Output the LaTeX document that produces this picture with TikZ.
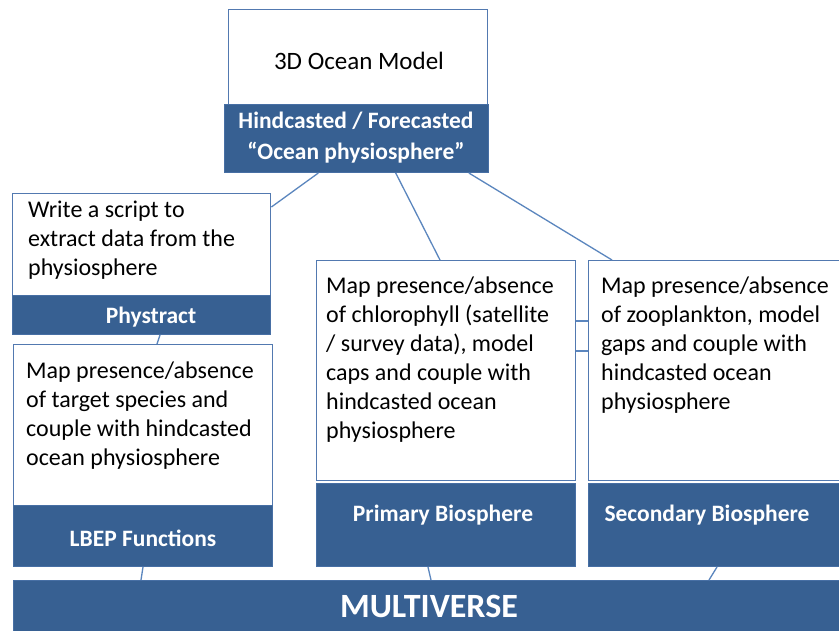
\documentclass[tikz,border=0pt]{standalone}
\usepackage{fontspec}
\setmainfont{Carlito}
\usetikzlibrary{calc}
\definecolor{bandblue}{HTML}{376092}
\definecolor{edgeblue}{HTML}{5279B0}
\definecolor{linkblue}{HTML}{5B86BE}
\begin{document}
\begin{tikzpicture}[x=1pt,y=-1pt,
	whitebox/.style={draw=edgeblue, line width=1.4pt, fill=white, anchor=north west, inner sep=0pt},
	band/.style={draw=edgeblue!60!bandblue, line width=1pt, fill=bandblue, anchor=north west, inner sep=0pt},
	bodytext/.style={anchor=north west, align=left, inner sep=0pt, font=\fontsize{24}{29}\selectfont},
	bandtext/.style={text=white, align=center, inner sep=0pt, font=\fontsize{23.5}{31}\selectfont\bfseries},
	link/.style={draw=linkblue, line width=1.3pt}]
	\path[fill=white, use as bounding box] (0,0) rectangle (839,630);
	\clip (0,0) rectangle (839,630);

	% model on top
	\node[whitebox, minimum width=259, minimum height=96] (model) at (228,9) {};
	\node[band, minimum width=264, minimum height=68] (hind) at (224,104) {};
	\node[font=\fontsize{25}{29}\selectfont] (modeltxt) at (359,61) {3D Ocean Model};
	\node[bandtext] (hindtxt) at (356,138) {Hindcasted / Forecasted\\“Ocean physiosphere”};

	% left column
	\node[whitebox, minimum width=258, minimum height=103] (script) at (12,193) {};
	\node[band, minimum width=258, minimum height=39] (phys) at (12,295) {};
	\node[bodytext] (scripttxt) at (28,201) {Write a script to\\extract data from the\\physiosphere};
	\node[bandtext] (phystxt) at (151,317) {Phystract};

	\node[whitebox, minimum width=259, minimum height=162] (lbepbox) at (13,344) {};
	\node[band, minimum width=259, minimum height=61] (lbep) at (13,505) {};
	\node[bodytext] (lbeptxt) at (26,362) {Map presence/absence\\of target species and\\couple with hindcasted\\ocean physiosphere};
	\node[bandtext] (lbeplbl) at (143,538) {LBEP Functions};

	% biospheres
	\node[whitebox, minimum width=259, minimum height=220] (primbox) at (316,260) {};
	\node[band, minimum width=259, minimum height=83] (prim) at (316,483) {};
	\node[bodytext] (primtxt) at (326,277) {Map presence/absence\\of chlorophyll (satellite\\/ survey data), model\\caps and couple with\\hindcasted ocean\\physiosphere};
	\node[bandtext] (primlbl) at (443,515) {Primary Biosphere};

	\node[whitebox, minimum width=270, minimum height=220] (secbox) at (588,260) {};
	\node[band, minimum width=270, minimum height=83] (sec) at (588,483) {};
	\node[bodytext] (sectxt) at (601,277) {Map presence/absence\\of zooplankton, model\\gaps and couple with\\hindcasted ocean\\physiosphere};
	\node[bandtext] (seclbl) at (707,515) {Secondary Biosphere};

	% base
	\node[band, minimum width=840, minimum height=60] (multi) at (13,580) {};
	\node[bandtext, font=\fontsize{34}{36}\selectfont\bfseries] (multitxt) at (429,606) {MULTIVERSE};

	\draw[link] ($(hind.south west)!0.356!(hind.south east)$) -- ($(script.north east)+(0,14)$);
	\draw[link] ($(hind.south west)!0.648!(hind.south east)$) -- ($(primbox.north west)+(124,0)$);
	\draw[link] ($(hind.south west)!0.924!(hind.south east)$) -- ($(secbox.north west)+(24,0)$);
	\draw[link] ($(primbox.north east)+(0,61)$) -- ($(secbox.north west)+(0,61)$);
	\draw[link] ($(primbox.north east)+(0,91)$) -- ($(secbox.north west)+(0,91)$);
	\draw[link] ($(phys.south west)+(148,0)$) -- ($(lbepbox.north west)+(144,0)$);
	\draw[link] ($(lbep.south west)+(130,0)$) -- ($(multi.north west)+(128,0)$);
	\draw[link] ($(prim.south west)+(112,0)$) -- ($(multi.north west)+(418,0)$);
	\draw[link] ($(sec.south west)+(129,0)$) -- ($(multi.north west)+(696,0)$);
\end{tikzpicture}
\end{document}
